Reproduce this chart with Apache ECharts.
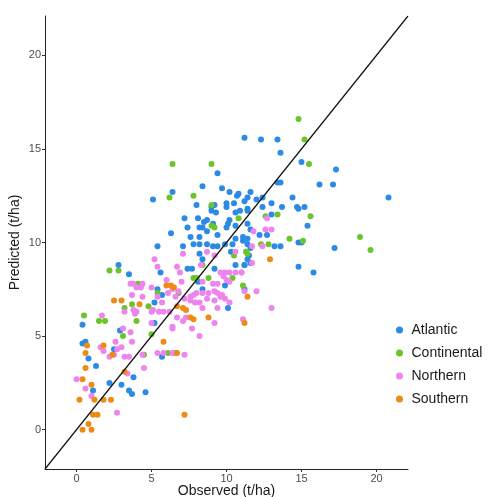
<!DOCTYPE html>
<html>
<head>
<meta charset="utf-8">
<script src="https://cdn.jsdelivr.net/npm/echarts@6/dist/echarts.min.js"></script>
<style>
  html, body { margin: 0; padding: 0; background: #fff; }
  #chart { width: 489px; height: 497px; }
</style>
</head>
<body>
<div id="chart"></div>
<script>
// observed vs predicted yield, t/ha
var atlantic = [
  [11.2,15.6],[12.3,15.5],[13.4,15.5],[13.6,14.8],[15.0,14.3],[9.4,13.7],[17.3,13.9],[16.2,13.1],[17.1,13.1],[20.8,12.4],
  [13.4,13.2],[13.6,13.2],[11.6,12.7],[14.4,12.4],[11.4,12.4],[12.0,12.3],[12.4,12.4],[12.4,11.9],[13.0,12.1],[13.7,11.9],
  [14.7,11.9],[14.8,11.8],[15.2,11.9],[15.4,10.9],[17.2,9.7],[14.8,10.0],[15.0,10.0],[14.8,8.7],[15.8,8.4],[11.1,10.3],
  [11.4,11.0],[12.2,10.4],[12.7,10.4],[13.2,9.8],[13.6,9.8],[11.5,9.3],[11.2,8.8],[11.6,8.9],[8.4,13.0],[9.7,12.9],
  [10.2,12.7],[10.7,12.5],[10.8,12.6],[11.2,12.2],[9.0,11.9],[9.2,12.0],[9.0,11.7],[9.3,11.6],[10.0,11.9],[10.0,12.1],
  [10.5,12.1],[10.6,11.6],[10.9,11.7],[11.4,11.7],[11.4,11.8],[13.0,11.5],[10.2,11.2],[8.5,11.1],[8.7,11.2],[8.4,10.8],
  [9.1,11.0],[10.1,11.0],[10.0,10.8],[10.6,10.9],[11.6,10.7],[11.4,10.2],[10.6,10.2],[11.1,10.1],[6.4,12.7],[5.1,12.3],
  [8.0,12.0],[7.2,11.3],[8.1,11.3],[7.4,10.8],[8.2,10.8],[8.7,10.6],[6.3,10.5],[7.6,10.3],[8.2,10.3],[9.4,10.4],
  [5.4,9.8],[7.1,9.8],[7.8,9.9],[8.2,9.9],[8.7,9.9],[9.1,9.8],[9.4,9.8],[9.9,9.9],[10.4,9.9],[11.4,9.9],
  [11.6,9.7],[8.2,9.4],[8.4,9.1],[10.3,9.5],[11.4,9.1],[10.6,8.8],[11.2,8.8],[7.4,8.6],[7.7,8.6],[9.2,8.6],
  [8.1,7.9],[9.9,7.7],[8.4,7.5],[11.2,7.5],[10.1,6.5],[2.8,8.8],[3.5,8.3],[5.6,8.4],[5.4,7.5],[5.7,7.2],
  [5.2,6.8],[5.2,5.7],[0.4,5.6],[2.9,5.3],[0.4,4.6],[0.6,4.7],[0.8,3.8],[1.3,3.4],[2.5,4.3],[5.7,3.9],
  [3.8,2.8],[3.0,2.4],[2.2,2.5],[1.1,2.1],[3.5,2.1],[3.7,1.9],[4.6,2.0]
];
var continental = [
  [14.8,16.6],[15.2,15.5],[15.5,14.2],[6.4,14.2],[9.0,14.2],[7.8,12.5],[6.2,12.4],[9.0,12.0],[15.6,11.4],[18.9,10.3],
  [19.6,9.6],[15.1,10.1],[14.2,10.2],[12.3,9.9],[12.8,9.9],[11.3,9.5],[11.1,7.7],[9.0,10.9],[9.2,10.8],[12.6,11.4],
  [13.4,11.5],[10.8,11.3],[10.5,9.3],[11.4,9.4],[8.4,8.8],[7.8,8.1],[8.0,8.1],[8.8,8.1],[10.4,8.1],[6.8,7.3],
  [2.2,8.5],[2.8,8.5],[4.1,7.8],[5.4,7.3],[3.7,6.7],[3.2,6.5],[4.8,6.6],[0.5,6.1],[1.5,5.8],[1.9,5.8],
  [4.0,5.8],[3.1,5.0],[4.5,4.0],[5.0,5.1],[6.1,4.1],[6.6,4.1]
];
var northern = [
  [7.1,9.4],[8.7,9.5],[9.2,9.3],[10.6,9.5],[12.7,11.3],[11.8,10.6],[13.0,10.7],[12.6,10.7],[11.7,9.8],[12.4,9.8],
  [11.7,8.9],[11.0,8.4],[11.2,7.4],[12.0,7.4],[5.2,9.1],[5.4,8.7],[6.0,8.0],[3.6,7.8],[3.8,7.8],[4.4,7.8],
  [4.3,7.6],[4.0,7.6],[5.0,7.6],[6.1,7.3],[3.7,7.2],[4.4,7.1],[5.4,7.1],[3.2,6.3],[3.8,6.4],[4.0,6.3],
  [3.9,6.2],[5.1,6.4],[5.0,6.3],[5.8,6.3],[5.5,6.3],[6.2,6.3],[5.7,6.8],[1.7,6.1],[5.0,5.7],[6.4,5.5],
  [3.1,5.4],[3.6,5.2],[8.3,8.8],[6.7,8.7],[6.9,8.4],[9.6,8.4],[9.9,8.4],[10.2,8.4],[10.6,8.4],[7.0,7.9],
  [8.4,7.9],[9.1,7.8],[9.4,7.8],[9.8,8.2],[10.0,8.0],[10.2,7.9],[6.4,7.5],[6.8,7.4],[8.0,7.3],[8.4,7.3],
  [8.8,7.3],[7.6,7.1],[7.8,7.2],[9.2,7.4],[9.4,7.3],[9.7,7.2],[9.6,7.1],[6.6,7.1],[7.2,7.0],[7.6,6.9],
  [7.9,6.8],[8.2,6.8],[8.7,7.0],[9.2,6.9],[9.9,7.0],[10.2,6.8],[8.4,6.5],[9.4,6.5],[13.0,6.5],[7.3,6.0],
  [6.7,6.0],[7.1,5.8],[9.2,5.7],[11.1,5.9],[6.4,5.4],[7.7,5.4],[8.2,5.0],[1.6,4.4],[1.8,4.2],[2.6,4.7],
  [2.7,4.3],[3.0,4.4],[2.2,3.9],[2.5,4.0],[3.2,3.9],[3.5,3.9],[3.7,4.7],[4.4,4.0],[4.5,3.3],[5.4,4.1],
  [5.8,4.1],[3.4,3.0],[0.0,2.7],[0.6,2.2],[1.0,1.8],[2.7,0.9],[6.4,4.1],[7.2,4.0],[11.0,8.4]
];
var southern = [
  [12.9,9.1],[11.4,7.1],[11.2,5.7],[8.8,6.0],[7.6,6.0],[7.8,5.9],[7.1,6.5],[7.3,6.4],[6.7,6.6],[6.0,7.7],
  [6.3,7.7],[6.5,7.6],[2.5,6.9],[3.0,6.9],[4.2,6.7],[5.8,4.7],[0.7,4.5],[1.8,4.5],[0.6,4.1],[2.4,4.0],
  [0.6,3.3],[3.2,3.1],[0.4,2.7],[1.0,2.4],[0.2,1.6],[1.2,1.6],[1.8,1.6],[2.3,1.6],[1.1,0.8],[1.4,0.8],
  [0.8,0.3],[0.4,0.0],[1.0,0.0],[7.2,0.8],[6.7,4.1]
];
var regions = ['Atlantic', 'Continental', 'Northern', 'Southern'];
var colors = ['#2b8ae4', '#6cc42b', '#ee84ee', '#ee8a16'];
var axisTicks = [0, 5, 10, 15, 20];
var axisRange = [-2.1, 22.1];
// 1:1 line
var diagLine = [[-2.1, -2.1], [22.1, 22.1]];

var font = "'Liberation Sans', Arial, sans-serif";
var chart = echarts.init(document.getElementById('chart'));

function makeAxis(name, gap) {
  return {
    type: 'value',
    min: axisRange[0],
    max: axisRange[1],
    name: name,
    nameLocation: 'middle',
    nameGap: gap,
    nameMoveOverlap: false,
    nameTextStyle: { fontSize: 14, color: '#1a1a1a', fontFamily: font },
    axisLine: { show: true, onZero: false, lineStyle: { color: '#222', width: 1 } },
    axisTick: { show: true, length: 3, customValues: axisTicks, lineStyle: { color: '#333' } },
    axisLabel: { customValues: axisTicks, color: '#4d4d4d', fontSize: 11, margin: 4, fontFamily: font },
    splitLine: { show: false }
  }
}

var series = []
var groups = [atlantic, continental, northern, southern]
for (var i = 0; i < groups.length; i++) {
  series.push({
    name: regions[i],
    type: 'scatter',
    data: groups[i],
    symbolSize: 6,
    itemStyle: { color: colors[i], opacity: 1 }
  })
}
series.push({
  type: 'line',
  data: diagLine,
  symbol: 'none',
  silent: true,
  lineStyle: { color: '#111', width: 1.2 },
  z: 5
})

var option = {
  animation: false,
  backgroundColor: '#fff',
  textStyle: { fontFamily: font },
  grid: { left: 45, top: 16, right: 81, bottom: 28, outerBoundsMode: 'none' },
  xAxis: makeAxis('Observed (t/ha)', 15),
  yAxis: makeAxis('Predicted (t/ha)', 23),
  legend: {
    data: regions,
    orient: 'vertical',
    left: 391,
    top: 318,
    icon: 'circle',
    itemWidth: 14,
    itemHeight: 7,
    itemGap: 9,
    textStyle: { fontSize: 14, color: '#1a1a1a', fontFamily: font }
  },
  series: series
}
chart.setOption(option)
</script>
</body>
</html>
